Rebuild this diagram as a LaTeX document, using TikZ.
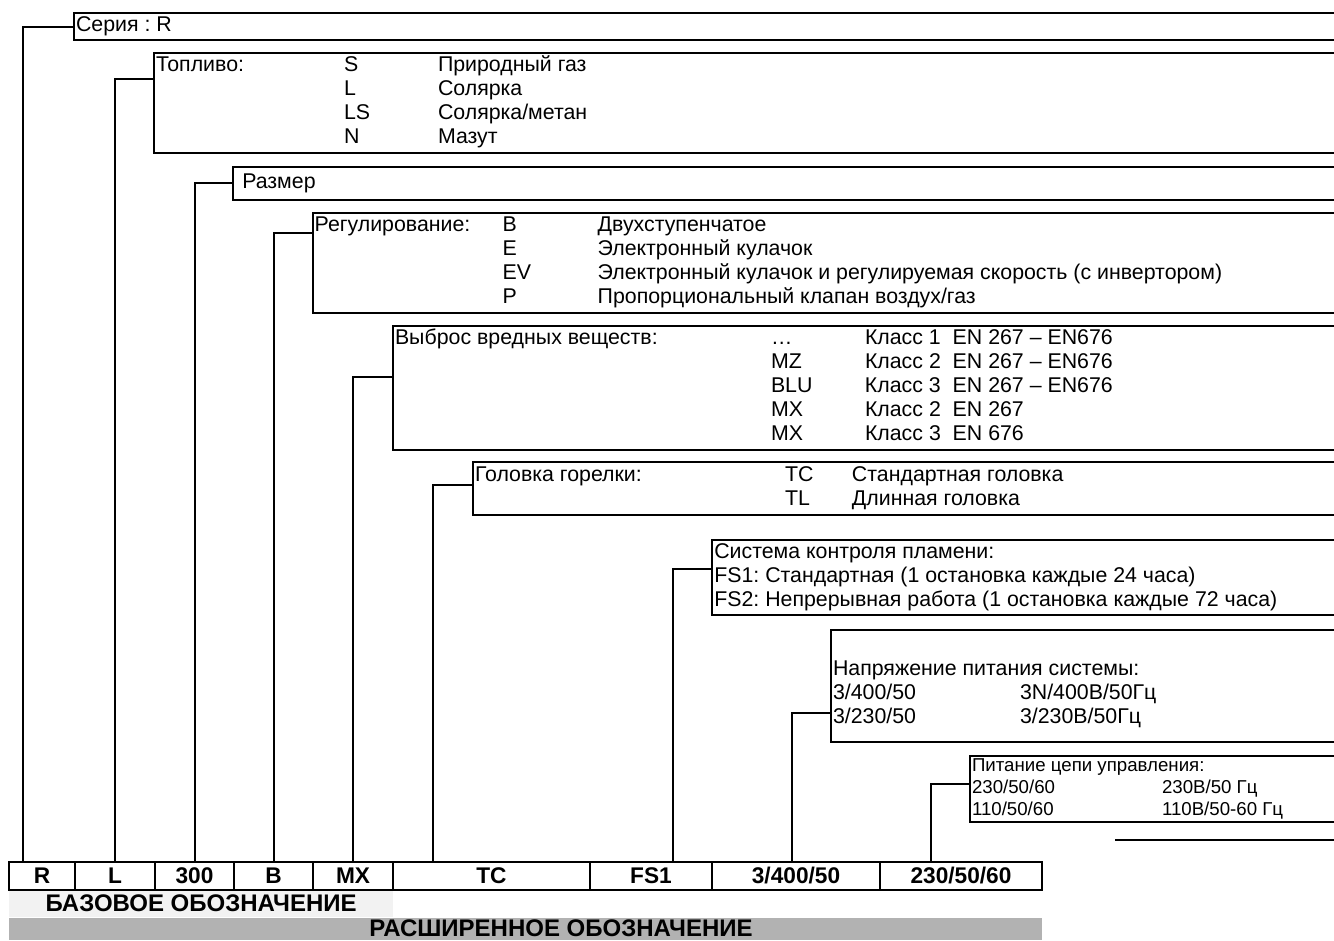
\documentclass[tikz,border=0pt]{standalone}
\usepackage{fontspec}
\setmainfont{Liberation Sans}
\usepackage{array}
\usetikzlibrary{positioning}

\newlength\px
\setlength\px{0.75pt}
\definecolor{basegray}{HTML}{F2F2F2}
\definecolor{extgray}{HTML}{B2B2B2}

\begin{document}
\frenchspacing
\begin{tikzpicture}[
      x=0.75pt, y=-0.75pt,
      line width=1.5pt,
      every node/.style = {inner sep=0pt, outer sep=0pt},
      field/.style      = {anchor=north west, inner xsep=2\px, font=\fontsize{16}{18}\selectfont},
      smallfield/.style = {field, font=\fontsize{14}{16.5}\selectfont},
      cell/.style       = {draw, minimum height=28.3\px, font=\fontsize{17}{20}\selectfont\bfseries},
      band/.style       = {anchor=north west, font=\fontsize{18}{20}\selectfont\bfseries}
    ]
    \useasboundingbox (0,0) rectangle (1334,940);
    \coordinate (edge) at (1334,0);

    % code bar
    \node (baseband) [band, fill=basegray, minimum width=383.7\px, minimum height=26.7\px] at (9.3,890) {БАЗОВОЕ ОБОЗНАЧЕНИЕ};
    \node (extband)  [band, fill=extgray, minimum width=1032.7\px, minimum height=21.7\px] at (9.3,918.3) {};
    \node (extlabel) [font=\fontsize{18}{20}\selectfont\bfseries] at (561,928.5) {РАСШИРЕННОЕ ОБОЗНАЧЕНИЕ};

    \node (cR)   [cell, anchor=north west, minimum width=65.7\px] at (9.3,861.7) {R};
    \node (cL)   [cell, right=0pt of cR,   minimum width=80\px]  {L};
    \node (c300) [cell, right=0pt of cL,   minimum width=79\px]  {300};
    \node (cB)   [cell, right=0pt of c300, minimum width=79\px]  {B};
    \node (cMX)  [cell, right=0pt of cB,   minimum width=80\px]  {MX};
    \node (cTC)  [cell, right=0pt of cMX,  minimum width=197\px] {TC};
    \node (cFS)  [cell, right=0pt of cTC,  minimum width=122\px] {FS1};
    \node (cV)   [cell, right=0pt of cFS,  minimum width=168\px] {3/400/50};
    \node (cC)   [cell, right=0pt of cV,   minimum width=162\px] {230/50/60};

    % fields
    \node (series) [field, minimum height=26.7\px] at (74,13.3) {\strut Серия : R};
    \node (fuel)   [field, minimum height=100.3\px] at (154,52.7) {%
      \begin{tabular}{@{}p{188\px}@{}p{94\px}@{}l@{}}
        Топливо: & S  & Природный газ\\
                 & L  & Солярка\\
                 & LS & Солярка/метан\\
                 & N  & Мазут
      \end{tabular}};
    \node (size)       [field, minimum height=33.3\px] at (233.3,166.7) {\strut\hspace{7\px}Размер};
    \node (regulation) [field, minimum height=100\px] at (312.7,212.7) {%
      \begin{tabular}{@{}p{188\px}@{}p{95\px}@{}l@{}}
        Регулирование: & B  & Двухступенчатое\\
                       & E  & Электронный кулачок\\
                       & EV & Электронный кулачок и регулируемая скорость (с инвертором)\\
                       & P  & Пропорциональный клапан воздух/газ
      \end{tabular}};
    \node (emission)   [field, minimum height=124\px] at (393,326) {%
      \begin{tabular}{@{}p{376\px}@{}p{94\px}@{}l@{}}
        Выброс вредных веществ: & …   & Класс 1~ EN 267 – EN676\\
                                & MZ  & Класс 2~ EN 267 – EN676\\
                                & BLU & Класс 3~ EN 267 – EN676\\
                                & MX  & Класс 2~ EN 267\\
                                & MX  & Класс 3~ EN 676
      \end{tabular}};
    \node (head)       [field, minimum height=53\px] at (473,462) {%
      \begin{tabular}{@{}p{310\px}@{}p{67\px}@{}l@{}}
        Головка горелки: & TC & Стандартная головка\\
                         & TL & Длинная головка
      \end{tabular}};
    \node (flame)      [field, minimum height=75\px] at (712.3,540) {%
      \begin{tabular}{@{}l@{}}
        Система контроля пламени:\\
        FS1: Стандартная (1 остановка каждые 24 часа)\\
        FS2: Непрерывная работа (1 остановка каждые 72 часа)
      \end{tabular}};
    \node (supply)     [field, minimum height=112\px] at (831,629.5) {%
      \begin{tabular}{@{}p{187\px}@{}l@{}}
        & \\[-6\px]
        \multicolumn{2}{@{}l@{}}{Напряжение питания системы:}\\
        3/400/50 & 3N/400В/50Гц\\
        3/230/50 & 3/230В/50Гц
      \end{tabular}};
    \node (control)    [smallfield, minimum height=64.3\px] at (970,755.7) {%
      \begin{tabular}{@{}p{190\px}@{}l@{}}
        \multicolumn{2}{@{}l@{}}{Питание цепи управления:}\\
        230/50/60 & 230В/50 Гц\\
        110/50/60 & 110В/50-60 Гц
      \end{tabular}};

    \foreach \b in {series,fuel,size,regulation,emission,head,flame,supply,control}
      \draw (edge |- \b.north west) -- (\b.north west) -- (\b.south west) -- (edge |- \b.south west);

    \coordinate (blank) at (1115,840);
    \draw (blank) -- (edge |- blank);

    % legs down to the code bar
    \coordinate (legR)  at (22.7,861.7);
    \coordinate (legTC) at (433,861.7);
    \coordinate (legFS) at (672.5,861.7);
    \coordinate (legV)  at (792,861.7);
    \coordinate (legC)  at (931,861.7);

    \draw (series.west)                          -| (legR);
    \draw ([yshift=-26.3\px]fuel.north west)     -| (cL.north);
    \draw (size.west)                            -| (c300.north);
    \draw ([yshift=-20\px]regulation.north west) -| (cB.north);
    \draw ([yshift=-51\px]emission.north west)   -| (cMX.north);
    \draw ([yshift=-23\px]head.north west)       -| (legTC);
    \draw ([yshift=-29\px]flame.north west)      -| (legFS);
    \draw ([yshift=-83.5\px]supply.north west)   -| (legV);
    \draw ([yshift=-28.6\px]control.north west)  -| (legC);
\end{tikzpicture}
\end{document}
